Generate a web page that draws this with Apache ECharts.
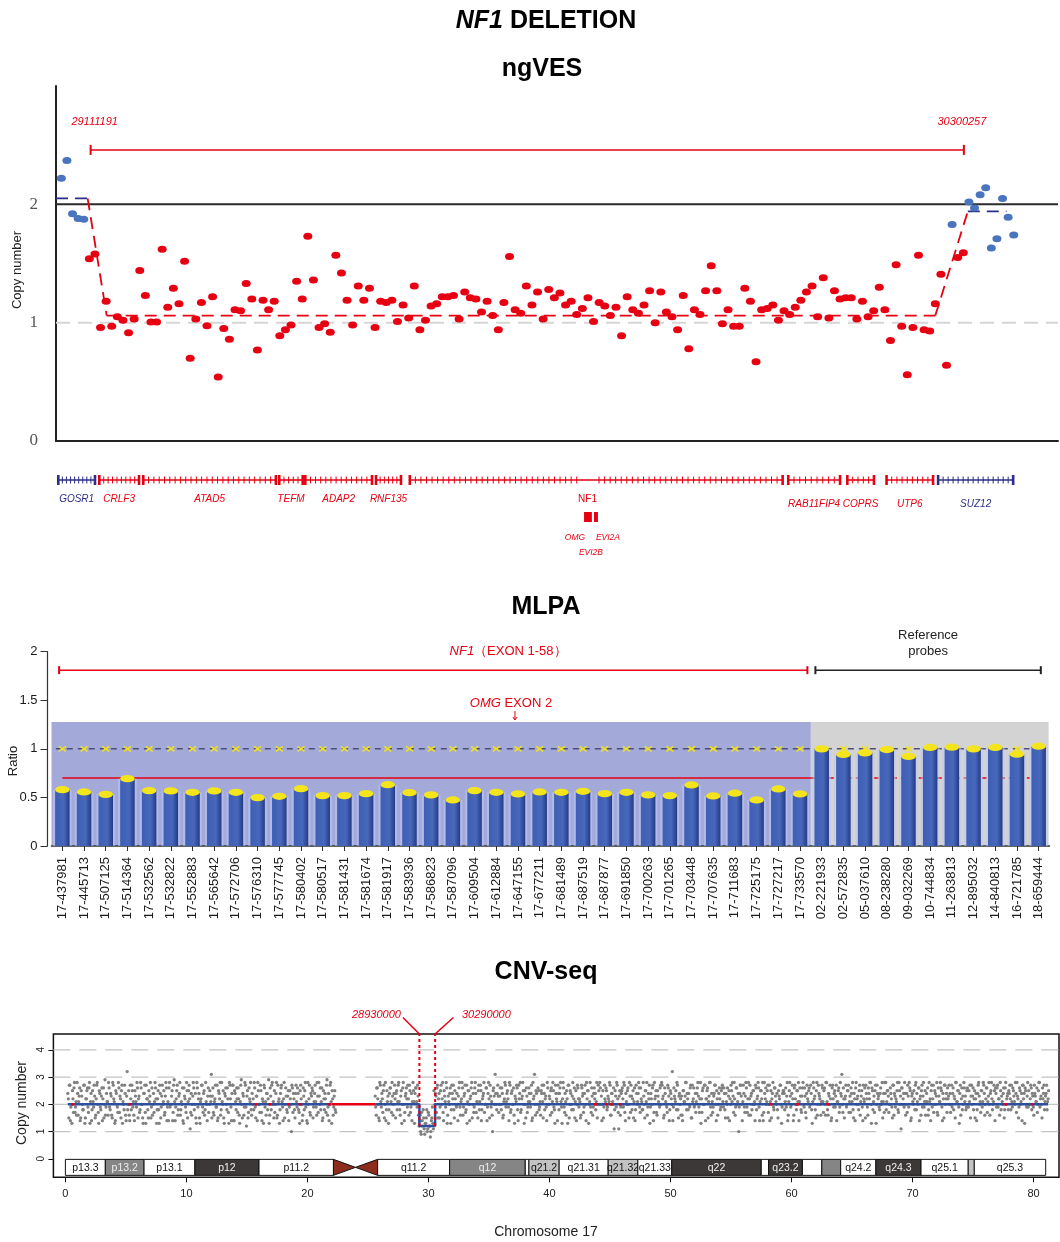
<!DOCTYPE html>
<html>
<head>
<meta charset="utf-8">
<script src="https://cdn.jsdelivr.net/npm/echarts@6.0.0/dist/echarts.min.js"></script>
<style>
html,body{margin:0;padding:0;background:#fff;}
#chart{width:1060px;height:1242px;}
</style>
</head>
<body>
<div id="chart"></div>
<script>
// ================= DATA =================
// ngVES: copy number per probe (probe index order)
const ngvesCN = [
 2.22,2.37,1.92,1.88,1.875,1.54,1.58,0.96,1.18,0.97,
 1.05,1.02,0.915,1.03,1.44,1.23,1.005,1.005,1.62,1.13,
 1.29,1.16,1.52,0.70,1.03,1.17,0.975,1.22,0.54,0.95,
 0.86,1.11,1.10,1.33,1.20,0.77,1.19,1.11,1.18,0.89,
 0.94,0.98,1.35,1.20,1.73,1.36,0.96,0.99,0.92,1.57,
 1.42,1.19,0.98,1.31,1.19,1.29,0.96,1.18,1.17,1.19,
 1.01,1.15,1.04,1.31,0.94,1.02,1.14,1.16,1.22,1.22,
 1.23,1.03,1.26,1.21,1.20,1.09,1.18,1.06,0.94,1.17,
 1.56,1.11,1.08,1.31,1.15,1.26,
 1.03,1.28,1.21,1.25,1.15,1.18,1.07,1.12,1.21,1.01,
 1.17,1.14,1.06,1.13,0.89,1.22,1.11,1.08,1.15,1.27,
 1.00,1.26,1.09,1.05,0.94,1.23,0.78,1.11,1.07,1.27,
 1.48,1.27,0.99,1.11,0.97,0.97,1.29,1.18,0.67,1.11,
 1.12,1.15,1.02,1.10,1.07,1.13,1.19,1.26,1.31,1.05,
 1.38,1.04,1.27,1.20,1.21,1.21,1.03,1.18,1.05,1.10,
 1.30,1.11,0.85,1.49,0.97,0.56,0.96,1.57,0.94,0.93,
 1.16,1.41,0.64,1.83,1.55,1.59,2.02,1.97,2.08,2.14,
 1.63,1.71,2.05,1.89,1.74
];
const ngvesNormalIdx = [0,1,2,3,4,159,162,163,164,165,166,167,168,169,170];
const ngvesSegStart = [-0.95, 8.1, 161.8];
const ngvesSegEnd   = [4.7, 156.0, 168.7];
const ngvesSegCN    = [2.05, 1.06, 1.94];
const ngvesSegNormal = [true, false, true];
const ngvesDelBounds = [5.23, 161.1];
const ngvesDelLabels = ['29111191', '30300257'];
const ngvesBracketCN = 2.46;
const ngvesYTicks = [0, 1, 2];

// gene track (probe index units)
const geneNames   = ['GOSR1','CRLF3','ATAD5','TEFM','ADAP2','RNF135','NF1','RAB11FIP4','COPRS','UTP6','SUZ12'];
const geneStart   = [-0.54, 6.78, 14.63, 38.9, 43.55, 56.17, 62.2, 129.75, 140.3, 147.3, 156.5];
const geneEnd     = [6.01, 13.87, 38.3, 43.08, 55.45, 60.63, 128.75, 139.0, 145.05, 155.6, 169.9];
const geneExons   = [8, 8, 24, 4, 12, 5, 66, 8, 4, 8, 14];
const geneDeleted = [false, true, true, true, true, true, true, true, true, true, false];
const nestedGenes = ['OMG', 'EVI2A', 'EVI2B'];
const nestedStart = [93.3, 95.1, 95.1];
const nestedEnd   = [94.7, 95.75, 95.75];

// MLPA
const mlpaProbes = ['17-437981','17-445713','17-507125','17-514364','17-532562','17-532822','17-552883','17-565642','17-572706','17-576310',
 '17-577745','17-580402','17-580517','17-581431','17-581674','17-581917','17-583936','17-586823','17-587096','17-609504',
 '17-612884','17-647155','17-677211','17-681489','17-687519','17-687877','17-691850','17-700263','17-701265','17-703448',
 '17-707635','17-711683','17-725175','17-727217','17-733570',
 '02-221933','02-572835','05-037610','08-238280','09-032269','10-744834','11-263813','12-895032','14-840813','16-721785','18-659444'];
const mlpaRatio = [0.58,0.556,0.532,0.693,0.57,0.567,0.553,0.567,0.553,0.498,
 0.512,0.59,0.519,0.519,0.539,0.631,0.549,0.526,0.474,0.57,
 0.553,0.536,0.556,0.553,0.563,0.539,0.553,0.526,0.519,0.628,
 0.515,0.543,0.474,0.587,0.536,
 1.0,0.942,0.959,0.993,0.922,1.014,1.017,1.0,1.014,0.945,1.027];
const mlpaTargetCount = 35;
const mlpaExpected = 1.0;
const mlpaCutoff = 0.7;
const mlpaOmgIdx = 21;
const mlpaBracketStart = [-0.15, 34.71];
const mlpaBracketEnd = [34.34, 45.1];
const mlpaBracketRatio = 1.81;
const mlpaYTicks = [0, 0.5, 1, 1.5, 2];

// CNV-seq (copy number x10 per fixed-size bin; "B" arrays = bins offset by half a bin)
const cnvPArm = [0.2, 22.3];
const cnvQArm = [25.6, 81.2];
const cnvPBins = [
 24,15,27,19,13,22,26,17,21,28,16,23,14,25,20,18,27,15,22,26,
 17,28,21,14,25,19,23,16,27,20,13,24,18,26,22,15,29,19,21,16,
 26,18,23,15,27,21,14,24,19,28,17,22,25,13,20,27,16,23,18,25,
 14,22,27,19,16,25,21,28,15,23,18,26,20,13,24,17,27,22,15,21,
 28,19,16,24,21,26,13,22,18,27,15,23,20,25,17,28,14,21,26,19,
 20,25,17,29,14,22,27,18,24,16,21,26,13,23,19,28,15,25,22,17,
 16,23,26,20,15,28,19,24,13,22,27,17,25,18,21,14,26,20,23,31,
 23,17,21,27,19,14,25,22,16,28,20,15,24,26,18,22,13,27,19,24,
 27,14,24,18,22,26,16,21,29,15,23,19,27,12,25,17,22,28,16,20,
 18,26,15,23,28,20,17,25,14,21,27,19,16,24,22,13,26,18,28,21,
 25,20,28,16,21,13,24,27,19,22,15,26,18,23,14,25,20,27,17,22,
 15,27,19,24,17,25,22,14,26,18,28,21,13,20,27,16,23,25,19,24,
 21,16,23,28,20,18,26,15,22,24,17,29,19,14,27,21,25,16,23,18
];
const cnvPBinsB = [
 22,27,14,20,25,17,28,19,16,24,21,26,15,23,18,27,13,22,25,19,
 26,13,24,18,21,27,15,22,28,17,25,19,23,14,26,20,16,24,21,28,
 19,24,16,28,22,13,25,20,17,26,23,15,27,21,18,24,14,32,20,16,
 27,18,25,21,14,23,19,26,22,17,28,20,15,24,27,13,22,18,25,23,
 15,26,20,17,28,22,18,25,13,24,19,27,21,16,23,26,19,14,28,20,
 23,14,27,21,19,25,16,23,28,18,20,14,26,22,17,25,21,27,11,24,
 20,28,18,24,13,26,22,15,21,27,19,24,16,28,20,23,17,25,21,15,
 26,16,22,19,27,15,24,28,18,21,25,13,23,20,26,17,28,22,14,27,
 14,25,21,26,17,22,13,27,20,24,16,28,19,23,15,26,21,18,24,22,
 28,19,23,14,25,20,27,17,22,13,26,21,24,18,29,16,23,27,20,15,
 17,24,15,27,22,18,26,21,14,28,20,23,17,25,19,22,10,26,24,18,
 24,21,26,18,13,27,20,16,23,25,19,14,28,22,17,24,26,15,21,27,
 19,28,17,23,26,21,14,25,18,22,27,16,24,20,28,13,22,19,25,17
];
const cnvQBins = [
 23,16,26,20,14,27,19,22,25,15,28,18,21,13,24,26,17,23,20,27,
 15,25,21,28,18,23,13,26,20,17,24,22,27,16,25,19,14,28,21,24,
 26,19,23,12,16,9,14,18,11,13,15,10,17,12,8,14,19,11,13,24,
 17,27,22,15,25,20,28,14,23,19,26,16,21,24,13,27,22,18,25,20,
 24,14,26,19,21,28,16,23,27,18,13,25,20,22,26,15,24,19,28,17,
 21,25,18,27,14,22,24,17,20,26,19,28,15,23,21,10,26,20,24,18,
 27,17,23,20,26,15,21,28,19,24,22,14,27,18,25,20,16,23,21,26,
 14,22,28,18,23,25,13,20,26,17,21,24,19,27,15,22,31,16,24,20,
 25,19,16,24,21,27,18,23,14,26,20,22,25,17,28,19,13,24,21,27,
 18,26,21,13,28,19,24,16,22,27,15,25,20,23,18,26,21,14,27,22,
 22,15,27,23,17,24,20,28,25,13,21,19,26,16,24,22,18,28,20,25,
 28,20,14,25,19,22,26,18,23,21,27,16,24,20,11,25,19,27,17,23,
 16,24,26,19,27,14,21,25,20,28,17,23,22,15,26,18,24,21,28,19,
 26,21,18,23,15,25,28,19,22,13,24,20,27,17,22,25,16,23,20,26,
 20,27,23,16,24,20,17,26,14,25,22,32,19,23,21,18,27,15,24,22,
 23,14,25,21,28,18,22,24,19,27,15,21,26,20,17,24,28,19,22,13,
 17,26,20,27,22,25,15,23,28,16,21,19,24,27,14,22,20,26,18,25,
 27,19,24,15,21,26,23,14,20,25,28,17,22,19,26,21,10,24,27,20,
 21,24,17,28,19,22,16,27,23,18,25,20,14,26,22,28,19,21,25,16,
 14,28,22,20,25,17,27,21,15,24,19,26,23,20,18,25,22,27,13,24,
 25,18,26,23,14,21,28,19,24,22,16,27,20,25,21,14,26,18,23,28,
 19,23,15,27,21,26,20,24,13,28,22,18,25,16,27,23,20,21,26,17,
 26,16,28,18,24,20,22,15,27,19,25,23,14,21,26,19,24,31,17,22,
 22,27,20,25,17,23,26,21,18,24,14,28,22,20,25,16,23,19,27,21,
 15,24,19,26,22,28,13,25,21,17,27,20,24,23,18,26,21,15,24,28,
 28,21,25,17,20,24,19,27,16,23,22,25,18,28,20,11,26,22,19,24,
 20,17,23,28,25,15,24,20,22,27,18,21,26,14,23,25,19,28,21,16,
 24,26,18,21,14,27,22,17,25,20,28,16,23,21,26,19,24,15,27,22,
 17,22,27,24,20,19,26,23,15,28,21,25,13,27,22,18,20,26,23,19,
 26,19,21,15,27,23,18,25,22,14,24,28,20,17,25,21,27,16,22,26,
 21,28,16,25,22,20,27,14,24,26,19,22,28,18,21,24,15,26,20,23,
 18,24,22,27,19,25,21,28,17,23,15,26,20,24,27,22,13,25,19,28,
 25,20,27,18,23,16,24,21,26,20,28,19,23,15,22,27,21,24,18,22
];
const cnvQBinsB = [
 19,26,22,15,28,21,24,17,27,20,14,25,23,18,26,21,28,16,24,22,
 24,18,27,21,16,25,20,28,14,23,26,19,22,27,17,24,21,25,13,26,
 21,27,16,14,10,17,12,15,9,13,18,11,16,12,10,15,13,25,20,23,
 26,15,24,19,27,22,17,25,21,28,13,23,20,26,18,24,27,15,22,19,
 20,23,28,16,22,26,19,24,17,27,21,25,14,23,28,20,17,26,24,21,
 15,27,21,25,18,23,28,20,26,14,24,22,27,19,16,25,23,31,20,24,
 23,20,26,18,24,16,22,27,21,25,19,28,17,24,20,26,13,22,27,18,
 27,24,17,22,28,20,25,15,23,19,26,21,24,14,28,23,20,25,17,26,
 18,21,25,27,15,24,22,19,28,20,23,16,26,21,25,18,27,22,14,24,
 24,28,19,22,26,17,21,25,13,27,20,24,18,28,22,15,25,20,26,19,
 21,16,26,24,19,27,14,22,25,20,28,17,23,19,26,24,21,15,27,20,
 26,23,20,15,27,21,25,19,22,28,16,24,21,26,18,23,28,22,11,25,
 19,25,22,28,17,24,20,26,15,23,27,18,25,21,14,27,20,24,26,17,
 22,18,28,20,25,21,16,24,27,19,22,26,14,28,23,17,25,21,19,27,
 28,22,15,26,21,19,27,23,18,24,20,14,26,22,25,28,18,23,20,16,
 16,25,21,23,28,24,18,20,26,15,27,22,19,24,21,26,23,17,28,22,
 25,20,27,14,22,26,21,28,19,24,17,23,27,20,25,16,24,22,19,26,
 21,26,18,24,20,15,25,22,27,21,23,28,16,26,20,24,19,27,23,14,
 27,19,23,26,17,28,22,16,24,20,25,21,27,18,23,26,14,25,22,28,
 17,24,26,21,27,20,14,25,22,28,18,26,21,24,15,23,27,20,19,25,
 24,21,19,28,16,25,23,20,27,14,26,22,18,25,28,21,23,17,26,20,
 26,17,24,22,25,19,27,18,21,26,23,15,28,20,24,22,16,27,21,25,
 20,28,21,16,23,27,14,26,22,24,19,27,21,25,17,28,23,20,26,15,
 23,19,25,27,21,17,24,28,15,22,26,20,23,18,27,21,25,14,22,26,
 27,22,16,24,28,20,26,18,23,25,13,27,22,19,24,20,28,21,17,24,
 18,25,23,20,26,22,15,27,24,19,21,28,17,25,23,26,20,24,28,16,
 24,27,19,26,14,23,21,25,18,28,24,20,26,22,16,27,23,19,25,21,
 21,16,28,22,25,19,27,20,24,23,17,26,21,28,25,14,22,27,20,24,
 26,23,20,17,27,24,18,22,28,21,25,19,24,16,26,23,28,21,18,25,
 19,25,27,23,20,26,22,15,24,18,27,23,21,25,19,28,24,20,26,17,
 23,20,24,28,18,21,25,26,19,27,22,16,25,23,20,26,18,28,22,24,
 25,27,18,21,26,23,20,24,28,22,19,25,21,14,27,24,26,20,23,19,
 20,22,26,24,19,27,23,21,17,25,28,22,20,26,24,18,23,27,21,25
];
const cnvSegStart = [0.2, 25.6, 29.25, 30.55];
const cnvSegEnd   = [22.0, 29.25, 30.55, 81.2];
const cnvSegCN    = [2.0, 2.0, 1.2, 2.0];
const cnvCentroGap = [22.0, 25.6];
const cnvRedBits = [0.63,5.35,15.75,16.9,18.45,19.4,21.8,43.8,44.7,45.1,45.86,58.3,60.5,63.0,77.7,79.9];
const cnvBreaks = [29.25, 30.55];
const cnvBreakLabels = ['28930000', '30290000'];
const cnvXTicks = [0,10,20,30,40,50,60,70,80];
const cnvYTicks = [0,1,2,3,4];
const cnvBandName  = ['p13.3','p13.2','p13.1','p12','p11.2','p11.1','q11.1','q11.2','q12','q21.1','q21.2','q21.31','q21.32','q21.33','q22','q23.1','q23.2','q23.3','q24.1','q24.2','q24.3','q25.1','q25.2','q25.3'];
const cnvBandStart = [0,3.3,6.5,10.7,16.0,22.15,23.97,25.8,31.75,38.0,38.3,40.8,44.85,47.3,50.1,57.5,58.1,60.9,62.5,64.06,66.97,70.7,74.6,75.1];
const cnvBandEnd   = [3.3,6.5,10.7,16.0,22.15,23.97,25.8,31.75,38.0,38.3,40.8,44.85,47.3,50.1,57.5,58.1,60.9,62.5,64.06,66.97,70.7,74.6,75.1,81.0];
const cnvBandStain = ['gneg','gpos50','gneg','gpos75','gneg','acen','acen','gneg','gpos50','gneg','gpos25','gneg','gpos25','gneg','gpos75','gneg','gpos75','gneg','gpos50','gneg','gpos75','gneg','gpos25','gneg'];

// ================= STYLE =================
const FONT = "'Liberation Sans', Arial, Helvetica, sans-serif";
const RED = '#e60012';
const PT_BLUE = '#4a74bd';
const NAVY = '#2e2e88';
const NG_XMIN = -0.95, NG_XMAX = 177.9;
const CNV_XMIN = -0.99, CNV_XMAX = 82.1;
const stainFill = {gneg:'#ffffff', gpos25:'#c3c3c3', gpos50:'#858585', gpos75:'#3d3838', acen:'#8b2c1c'};
const stainText = {gneg:'#111', gpos25:'#111', gpos50:'#f0f0f0', gpos75:'#f0f0f0'};

const chart = echarts.init(document.getElementById('chart'), null, {renderer:'canvas'});

function refLine(xi, yi, pts, color, width, type, z){
  return {type:'line', xAxisIndex:xi, yAxisIndex:yi, data:pts, symbol:'none', silent:true, z:z||2,
    lineStyle:{color:color, width:width, type:type||'solid'}, animation:false};
}

const series = [];

// ---- ngVES ----
series.push(refLine(0,0,[[NG_XMIN,2],[NG_XMAX,2]],'#2a2a2a',2,'solid',1));
series.push(refLine(0,0,[[NG_XMIN,1],[NG_XMAX,1]],'#d6d6d6',2,[14,8],1));
for (let s=0; s<ngvesSegStart.length; s++){
  const col = ngvesSegNormal[s] ? NAVY : RED;
  series.push(refLine(0,0,[[ngvesSegStart[s],ngvesSegCN[s]],[ngvesSegEnd[s],ngvesSegCN[s]]],col,1.8,[12,7],3));
  if (s < ngvesSegStart.length-1){
    series.push(refLine(0,0,[[ngvesSegEnd[s],ngvesSegCN[s]],[ngvesSegStart[s+1],ngvesSegCN[s+1]]],RED,1.8,[12,7],3));
  }
}
const normalSet = new Set(ngvesNormalIdx);
series.push({type:'scatter', xAxisIndex:0, yAxisIndex:0, symbol:'circle', symbolSize:[9,7], z:4, silent:true,
  itemStyle:{color:RED, opacity:1}, data: ngvesCN.map((v,i)=>normalSet.has(i)?null:[i,v]).filter(d=>d)});
series.push({type:'scatter', xAxisIndex:0, yAxisIndex:0, symbol:'circle', symbolSize:[9,7], z:4, silent:true,
  itemStyle:{color:PT_BLUE, opacity:1}, data: ngvesCN.map((v,i)=>normalSet.has(i)?[i,v]:null).filter(d=>d)});
series.push({type:'custom', xAxisIndex:0, yAxisIndex:0, silent:true, z:5, clip:false,
  data:[[ngvesDelBounds[0], ngvesDelBounds[1], ngvesBracketCN]],
  renderItem:(params, api)=>{
    const a = api.coord([api.value(0), api.value(2)]), b = api.coord([api.value(1), api.value(2)]);
    const ts = {fill:RED, fontSize:11, fontStyle:'italic', fontFamily:FONT, align:'center', verticalAlign:'middle'};
    return {type:'group', children:[
      {type:'line', shape:{x1:a[0],y1:a[1],x2:b[0],y2:b[1]}, style:{stroke:RED, lineWidth:1.5}},
      {type:'line', shape:{x1:a[0],y1:a[1]-5,x2:a[0],y2:a[1]+5}, style:{stroke:RED, lineWidth:2}},
      {type:'line', shape:{x1:b[0],y1:b[1]-5,x2:b[0],y2:b[1]+5}, style:{stroke:RED, lineWidth:2}},
      {type:'text', x:a[0]+4, y:a[1]-28, style:Object.assign({text:ngvesDelLabels[0]}, ts)},
      {type:'text', x:b[0]-2, y:b[1]-28, style:Object.assign({text:ngvesDelLabels[1]}, ts)}
    ]};
  }});

// ---- gene track ----
const nestMin = Math.min(...nestedStart), nestMax = Math.max(...nestedEnd);
series.push({type:'custom', xAxisIndex:1, yAxisIndex:1, silent:true, clip:false, z:3,
  data: geneNames.map((n,i)=>[geneStart[i], geneEnd[i]]),
  renderItem:(params, api)=>{
    const i = params.dataIndex;
    const x0 = api.coord([geneStart[i],0])[0], x1 = api.coord([geneEnd[i],0])[0];
    const y = params.coordSys.y + 12;
    const col = geneDeleted[i] ? RED : NAVY;
    const hasNest = nestMin > geneStart[i] && nestMax < geneEnd[i];
    const ch = [
      {type:'line', shape:{x1:x0,y1:y,x2:x1,y2:y}, style:{stroke:col, lineWidth:1.6}},
      {type:'line', shape:{x1:x0,y1:y-5,x2:x0,y2:y+5}, style:{stroke:col, lineWidth:2.6}},
      {type:'line', shape:{x1:x1,y1:y-5,x2:x1,y2:y+5}, style:{stroke:col, lineWidth:2.6}}
    ];
    const n = geneExons[i];
    for (let k=1;k<=n;k++){
      const xv = geneStart[i] + (geneEnd[i]-geneStart[i])*k/(n+1);
      if (hasNest && xv > nestMin-0.7 && xv < nestMax+0.2) continue;
      const xp = api.coord([xv,0])[0];
      ch.push({type:'line', shape:{x1:xp,y1:y-3.5,x2:xp,y2:y+3.5}, style:{stroke:col, lineWidth:1}});
    }
    const nf1Idx = geneNames.indexOf('NF1');
    let lx = (x0+x1)/2, ly = y + 19;
    if (hasNest) lx = api.coord([(nestMin+nestMax)/2 - 0.6,0])[0];
    if (i > nf1Idx) ly = y + 24;
    ch.push({type:'text', x:lx, y:ly, style:{text:geneNames[i], fill:col, fontSize:10, fontStyle: hasNest?'normal':'italic',
      fontFamily:FONT, align:'center', verticalAlign:'middle'}});
    return {type:'group', children:ch};
  }});
const nestedLabelOffset = {OMG:[-13,16], EVI2A:[12,16], EVI2B:[-5,31]};
series.push({type:'custom', xAxisIndex:1, yAxisIndex:1, silent:true, clip:false, z:3,
  data: nestedGenes.map((n,i)=>[nestedStart[i], nestedEnd[i]]),
  renderItem:(params, api)=>{
    const i = params.dataIndex;
    const x0 = api.coord([nestedStart[i],0])[0], x1 = api.coord([nestedEnd[i],0])[0];
    const top = params.coordSys.y + 44, h = 10;
    const off = nestedLabelOffset[nestedGenes[i]];
    return {type:'group', children:[
      {type:'rect', shape:{x:x0, y:top, width:x1-x0, height:h}, style:{fill:RED}},
      {type:'text', x:(x0+x1)/2 + off[0], y:top+h+off[1], style:{text:nestedGenes[i], fill:RED, fontSize:8.5,
        fontStyle:'italic', fontFamily:FONT, align:'center', verticalAlign:'middle'}}
    ]};
  }});

// ---- MLPA ----
const MLPA_PANEL_TOP = 1.276;
series.push({type:'custom', xAxisIndex:3, yAxisIndex:2, silent:true, z:0,
  data:[[-0.5, mlpaTargetCount-0.5],[mlpaTargetCount-0.5, mlpaProbes.length-0.54]],
  renderItem:(params, api)=>{
    const a = api.coord([api.value(0),0]), b = api.coord([api.value(1),MLPA_PANEL_TOP]);
    return {type:'rect', shape:{x:a[0], y:b[1], width:b[0]-a[0], height:a[1]-b[1]},
      style:{fill: params.dataIndex===0 ? '#a3a9d9' : '#d3d3d3'}};
  }});
series.push(refLine(3,2,[[-0.3,mlpaExpected],[45.0,mlpaExpected]],'#4d4f77',1.5,[6,5],2));
series.push(refLine(3,2,[[0,mlpaCutoff],[mlpaTargetCount-0.5,mlpaCutoff]],RED,1.5,'solid',2));
series.push(refLine(3,2,[[mlpaTargetCount-0.5,mlpaCutoff],[44.6,mlpaCutoff]],RED,1.5,[5,4],2));
series.push({type:'custom', xAxisIndex:2, yAxisIndex:2, silent:true, z:3,
  data: mlpaProbes.map((p,i)=>[i, mlpaExpected]),
  renderItem:(params, api)=>{
    const c = api.coord([api.value(0), api.value(1)]);
    return {type:'group', children:[
      {type:'line', shape:{x1:c[0]-3.5,y1:c[1]-2.5,x2:c[0]+3.5,y2:c[1]+2.5}, style:{stroke:'#f2e21a', lineWidth:1.6}},
      {type:'line', shape:{x1:c[0]-3.5,y1:c[1]+2.5,x2:c[0]+3.5,y2:c[1]-2.5}, style:{stroke:'#f2e21a', lineWidth:1.6}}
    ]};
  }});
series.push({type:'custom', xAxisIndex:2, yAxisIndex:2, silent:true, z:4,
  data: mlpaRatio.map((v,i)=>[i,v]),
  renderItem:(params, api)=>{
    const i = api.value(0), v = api.value(1);
    const top = api.coord([i,v]), base = api.coord([i,0]);
    const bw = api.size([1,0])[0];
    const w = 14.5, cx = top[0];
    return {type:'group', children:[
      {type:'rect', shape:{x:cx-bw/2+1.5, y:top[1], width:bw-3, height:base[1]-top[1]}, style:{fill:'rgba(190,200,245,0.55)'}},
      {type:'rect', shape:{x:cx-w/2, y:top[1], width:w, height:base[1]-top[1]},
        style:{fill:new echarts.graphic.LinearGradient(0,0,1,0,[{offset:0,color:'#3e5eb5'},{offset:0.6,color:'#4868bb'},{offset:1,color:'#243a86'}])}},
      {type:'circle', shape:{cx:0, cy:0, r:w/2}, x:cx, y:top[1], scaleY:0.5, style:{fill:'#f4e41c'}}
    ]};
  }});
series.push({type:'custom', xAxisIndex:3, yAxisIndex:2, silent:true, clip:false, z:5,
  data: mlpaBracketStart.map((s,i)=>[s, mlpaBracketEnd[i], mlpaBracketRatio]),
  renderItem:(params, api)=>{
    const i = params.dataIndex;
    const a = api.coord([api.value(0), api.value(2)]), b = api.coord([api.value(1), api.value(2)]);
    const col = i===0 ? RED : '#222';
    const ch = [
      {type:'line', shape:{x1:a[0],y1:a[1],x2:b[0],y2:b[1]}, style:{stroke:col, lineWidth:1.5}},
      {type:'line', shape:{x1:a[0],y1:a[1]-4,x2:a[0],y2:a[1]+4}, style:{stroke:col, lineWidth:2}},
      {type:'line', shape:{x1:b[0],y1:b[1]-4,x2:b[0],y2:b[1]+4}, style:{stroke:col, lineWidth:2}}
    ];
    if (i===0){
      const lx = api.coord([api.value(0) + (api.value(1)-api.value(0))*0.6, 0])[0];
      ch.push({type:'text', x:lx, y:a[1]-19, style:{text:'{i|NF1}{n|（EXON 1-58）}', align:'center', verticalAlign:'middle',
        rich:{i:{fill:RED, fontSize:13, fontStyle:'italic', fontFamily:FONT}, n:{fill:RED, fontSize:13, fontFamily:FONT}}}});
    } else {
      ch.push({type:'text', x:(a[0]+b[0])/2, y:a[1]-27, style:{text:'Reference\nprobes', fill:'#222', fontSize:13, fontFamily:FONT,
        align:'center', verticalAlign:'middle', lineHeight:16}});
    }
    return {type:'group', children:ch};
  }});
series.push({type:'custom', xAxisIndex:2, yAxisIndex:2, silent:true, clip:false, z:5,
  data:[[mlpaOmgIdx, MLPA_PANEL_TOP]],
  renderItem:(params, api)=>{
    const c = api.coord([api.value(0), api.value(1)]);
    const x = c[0]-3, y = c[1]-2;
    return {type:'group', children:[
      {type:'line', shape:{x1:x,y1:y-9,x2:x,y2:y}, style:{stroke:RED, lineWidth:1}},
      {type:'polyline', shape:{points:[[x-2,y-3],[x,y],[x+2,y-3]]}, style:{stroke:RED, lineWidth:1, fill:null}},
      {type:'text', x:x-4, y:y-17, style:{text:'{i|OMG} EXON 2', fill:RED, fontSize:13, fontFamily:FONT, align:'center', verticalAlign:'middle',
        rich:{i:{fill:RED, fontSize:13, fontStyle:'italic', fontFamily:FONT}}}}
    ]};
  }});

// ---- CNV-seq ----
cnvYTicks.filter(t=>t>0).forEach(t=>{
  series.push(refLine(4,3,[[CNV_XMIN,t],[CNV_XMAX,t]],'#c4c4c4',1.3,[17,9],1));
});
function binsToPoints(range, vals, offset){
  const n = vals.length, step = (range[1]-range[0])/(n-1);
  return vals.map((v,i)=>[range[0]+(i+offset)*step, v/10]);
}
const cnvPoints = binsToPoints(cnvPArm, cnvPBins, 0).concat(binsToPoints(cnvPArm, cnvPBinsB, 0.5),
  binsToPoints(cnvQArm, cnvQBins, 0), binsToPoints(cnvQArm, cnvQBinsB, 0.5));
series.push({type:'scatter', xAxisIndex:4, yAxisIndex:3, symbol:'circle', symbolSize:3.3, z:2, silent:true,
  itemStyle:{color:'#808080', opacity:1}, data: cnvPoints});
series.push(refLine(4,3,[[cnvCentroGap[0],2],[cnvCentroGap[1],2]],RED,2.5,'solid',3));
(function(){
  let run = [];
  for (let s=0; s<cnvSegStart.length; s++){
    if (run.length && Math.abs(run[run.length-1][0]-cnvSegStart[s])>1e-6){
      series.push(refLine(4,3,run,'#2c4f9e',2.5,'solid',3)); run = [];
    }
    run.push([cnvSegStart[s], cnvSegCN[s]]);
    run.push([cnvSegEnd[s], cnvSegCN[s]]);
  }
  if (run.length) series.push(refLine(4,3,run,'#2c4f9e',2.5,'solid',3));
})();
series.push({type:'custom', xAxisIndex:4, yAxisIndex:3, silent:true, z:4,
  data: cnvRedBits.map(x=>[x, 2]),
  renderItem:(params, api)=>{
    const a = api.coord([api.value(0)-0.12, api.value(1)]), b = api.coord([api.value(0)+0.12, api.value(1)]);
    return {type:'line', shape:{x1:a[0],y1:a[1],x2:b[0],y2:b[1]}, style:{stroke:RED, lineWidth:2.5}};
  }});
series.push({type:'custom', xAxisIndex:4, yAxisIndex:3, silent:true, z:6,
  data: cnvBandName.map((n,i)=>[cnvBandStart[i], cnvBandEnd[i]]),
  renderItem:(params, api)=>{
    const i = params.dataIndex;
    const x0 = api.coord([cnvBandStart[i],0])[0], x1 = api.coord([cnvBandEnd[i],0])[0];
    const y0 = api.coord([0,0])[1] + 0.6, h = 16;
    const st = cnvBandStain[i];
    if (st === 'acen'){
      const isP = cnvBandName[i].charAt(0) === 'p';
      const pts = isP ? [[x0,y0],[x0,y0+h],[x1,y0+h/2]] : [[x1,y0],[x1,y0+h],[x0,y0+h/2]];
      return {type:'polygon', shape:{points:pts}, style:{fill:stainFill.acen, stroke:'#111', lineWidth:1}};
    }
    const ch = [{type:'rect', shape:{x:x0, y:y0, width:x1-x0, height:h}, style:{fill:stainFill[st], stroke:'#111', lineWidth:1}}];
    if (x1-x0 >= 25){
      ch.push({type:'text', x:(x0+x1)/2, y:y0+h/2+0.5, style:{text:cnvBandName[i], fill:stainText[st], fontSize:10.5, fontFamily:FONT,
        align:'center', verticalAlign:'middle'}});
    }
    return {type:'group', children:ch};
  }});
series.push({type:'custom', xAxisIndex:4, yAxisIndex:3, silent:true, clip:false, z:7,
  data: cnvBreaks.map(x=>[x, Math.min(...cnvSegCN)]),
  renderItem:(params, api)=>{
    const i = params.dataIndex;
    const c = api.coord([api.value(0), api.value(1)]);
    const top = params.coordSys.y;
    const left = i===0;
    const ex = c[0] + (left ? -16.5 : 18.3), ey = top - 16.5;
    return {type:'group', children:[
      {type:'line', shape:{x1:c[0],y1:c[1],x2:c[0],y2:top}, style:{stroke:RED, lineWidth:2, lineDash:[3,3]}},
      {type:'line', shape:{x1:c[0],y1:top,x2:ex,y2:ey}, style:{stroke:RED, lineWidth:1.5}},
      {type:'text', x: left ? ex-2 : ex+8.5, y: top-19, style:{text:cnvBreakLabels[i], fill:RED, fontSize:11, fontStyle:'italic',
        fontFamily:FONT, align: left?'right':'left', verticalAlign:'middle'}}
    ]};
  }});

const option = {
  animation:false,
  backgroundColor:'#fff',
  grid:[
    {left:56, top:86, width:1002, height:355},
    {left:56, top:468, width:1002, height:95},
    {left:51.5, top:651.7, width:998, height:194.3},
    {left:53.4, top:1034, width:1005.6, height:143.3, show:true, borderColor:'#111', borderWidth:1.5, backgroundColor:'transparent'}
  ],
  xAxis:[
    {gridIndex:0, type:'value', min:NG_XMIN, max:NG_XMAX, axisLine:{show:true, onZero:false, lineStyle:{color:'#222', width:2}},
      axisTick:{show:false}, axisLabel:{show:false}, splitLine:{show:false}},
    {gridIndex:1, type:'value', min:NG_XMIN, max:NG_XMAX, show:false},
    {gridIndex:2, type:'category', data:mlpaProbes, axisLine:{show:true, onZero:false, lineStyle:{color:'#333', width:1.5}},
      axisTick:{show:true, alignWithLabel:true, length:5, lineStyle:{color:'#333'}},
      axisLabel:{interval:0, rotate:90, fontSize:13, color:'#1a1a1a', fontFamily:FONT, margin:11}, splitLine:{show:false}},
    {gridIndex:2, type:'value', min:-0.5, max:45.5, show:false},
    {gridIndex:3, type:'value', min:CNV_XMIN, max:CNV_XMAX, axisLine:{show:false, onZero:false},
      axisTick:{show:true, length:5, lineStyle:{color:'#111'}, customValues:cnvXTicks},
      axisLabel:{fontSize:11, color:'#222', fontFamily:FONT, margin:11, customValues:cnvXTicks}, splitLine:{show:false}}
  ],
  yAxis:[
    {gridIndex:0, type:'value', min:0, max:3, interval:1, axisLine:{show:true, onZero:false, lineStyle:{color:'#222', width:2}},
      axisTick:{show:false}, splitLine:{show:false},
      axisLabel:{fontSize:17, color:'#555', fontFamily:"'Liberation Serif', 'DejaVu Serif', serif", margin:18,
        formatter:(v)=> ngvesYTicks.indexOf(v)>=0 ? String(v) : ''}},
    {gridIndex:1, type:'value', min:0, max:1, show:false},
    {gridIndex:2, type:'value', min:0, max:2, interval:0.5, offset:4, axisLine:{show:true, onZero:false, lineStyle:{color:'#333', width:1.2}},
      axisTick:{show:true, length:7, lineStyle:{color:'#333'}}, splitLine:{show:false},
      axisLabel:{fontSize:13, color:'#1a1a1a', fontFamily:FONT, margin:10,
        formatter:(v)=> mlpaYTicks.indexOf(v)>=0 ? String(v) : ''}},
    {gridIndex:3, type:'value', min:-0.68, max:4.58, axisLine:{show:false, onZero:false},
      axisTick:{show:true, length:5, lineStyle:{color:'#111'}, customValues:cnvYTicks},
      axisLabel:{fontSize:10, color:'#222', fontFamily:FONT, margin:7, rotate:90, customValues:cnvYTicks}, splitLine:{show:false}}
  ],
  graphic:[
    {type:'text', x:546, y:21, style:{text:'{i|NF1} DELETION', fontSize:25, fontWeight:'bold', fontFamily:FONT, fill:'#000',
      align:'center', verticalAlign:'middle', rich:{i:{fontSize:25, fontWeight:'bold', fontStyle:'italic', fontFamily:FONT, fill:'#000'}}}},
    {type:'text', x:542, y:69, style:{text:'ngVES', fontSize:25, fontWeight:'bold', fontFamily:FONT, fill:'#000', align:'center', verticalAlign:'middle'}},
    {type:'text', x:546, y:607, style:{text:'MLPA', fontSize:25, fontWeight:'bold', fontFamily:FONT, fill:'#000', align:'center', verticalAlign:'middle'}},
    {type:'text', x:546, y:972, style:{text:'CNV-seq', fontSize:25, fontWeight:'bold', fontFamily:FONT, fill:'#000', align:'center', verticalAlign:'middle'}},
    {type:'text', x:17, y:270, rotation:Math.PI/2, style:{text:'Copy number', fontSize:13, fontFamily:FONT, fill:'#222', align:'center', verticalAlign:'middle'}},
    {type:'text', x:13, y:761, rotation:Math.PI/2, style:{text:'Ratio', fontSize:13, fontFamily:FONT, fill:'#222', align:'center', verticalAlign:'middle'}},
    {type:'text', x:22, y:1103, rotation:Math.PI/2, style:{text:'Copy number', fontSize:14, fontFamily:FONT, fill:'#222', align:'center', verticalAlign:'middle'}},
    {type:'text', x:546, y:1232, style:{text:'Chromosome 17', fontSize:14, fontFamily:FONT, fill:'#222', align:'center', verticalAlign:'middle'}}
  ],
  series: series
};
chart.setOption(option);
</script>
</body>
</html>
